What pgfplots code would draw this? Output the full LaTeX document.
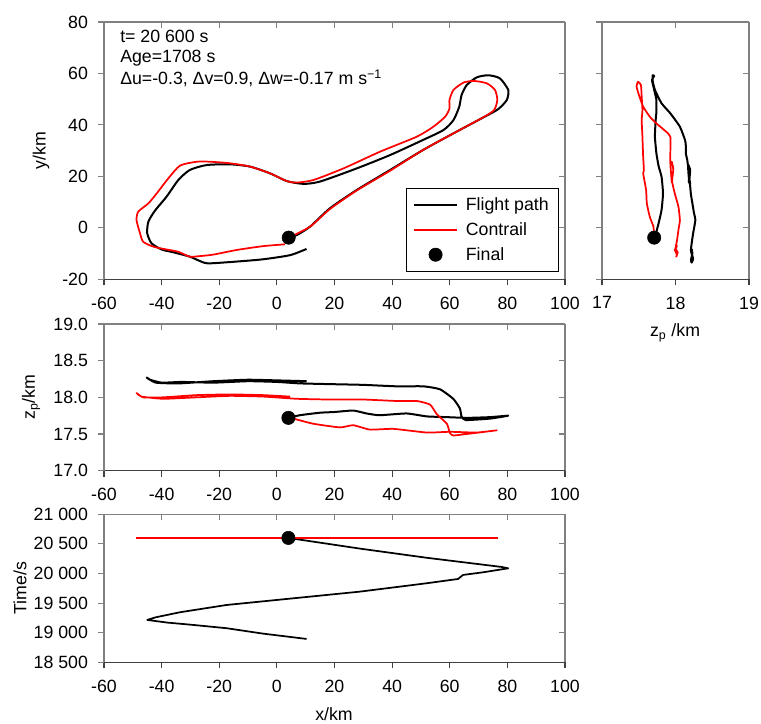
\documentclass[border=0pt]{standalone}
\usepackage{fontspec}
\setmainfont{Liberation Sans}
\usepackage{pgfplots}
\pgfplotsset{compat=1.18}
\definecolor{axgray}{gray}{0.5}
\definecolor{axdark}{gray}{0.25}
\newcommand\fs{\fontsize{13.3}{16}\selectfont}
\pgfplotsset{
 base/.style={scale only axis, axis x line*=bottom, axis y line*=left, tick align=outside, major tick length=4.5pt,
   x axis line style={axdark,line width=0.8pt}, y axis line style={axgray,line width=0.8pt},
   xtick style={axdark,line width=0.8pt}, ytick style={axgray,line width=0.8pt},
   /pgf/number format/assume math mode=true, tick label style={font=\fs, black}, label style={font=\fs},
   xticklabel style={yshift=-5pt}, yticklabel style={xshift=-4pt}, minor tick num=0},
 over/.style={scale only axis, axis x line*=top, axis y line*=right, tick align=inside, major tick length=4.5pt,
   axis line style={axgray,line width=0.8pt}, tick style={axgray,line width=0.8pt}, xticklabels={}, yticklabels={},
   scaled ticks=false},
 lineleg/.style={legend image code/.code={\draw[##1] (0pt,0pt) -- (32pt,0pt);}},
 markleg/.style={legend image code/.code={\path[draw=none] (0pt,0pt) -- (32pt,0pt); \draw[##1] plot coordinates {(16pt,0pt)};}},
}
\begin{document}
\begin{tikzpicture}[font=\fs]
\useasboundingbox (0,0) rectangle (570.75pt,543pt);
% ---------------- Panel A: x vs y
\begin{axis}[over, at={(78pt,333.5pt)}, anchor=south west, width=345.75pt, height=193pt,
 xmin=-60, xmax=100, ymin=-20, ymax=80, xtick={-60,-40,...,100}, ytick={-20,0,...,80}]
\end{axis}
\begin{axis}[base, at={(78pt,333.5pt)}, anchor=south west, width=345.75pt, height=193pt,
 xmin=-60, xmax=100, ymin=-20, ymax=80, xtick={-60,-40,...,100}, ytick={-20,0,...,80},
 every axis y label/.style={at={(axis description cs:-0.1367,0.5)}, rotate=90, anchor=center},
 ylabel={y/km},
 legend style={at={(0.9855,0.0295)}, anchor=south east, font=\fs, row sep=3.5pt, inner xsep=5pt, inner ysep=5pt,
   /tikz/every odd column/.append style={column sep=4pt}},
 legend cell align=left,
]
\addplot[black, line width=1.5pt, line join=round, smooth, tension=0.4, lineleg] coordinates {
(10.3,-8.2) (4.6,-10.6) (-4.7,-12.2) (-14,-13.1) (-23.8,-13.8) (-26.7,-12.9) (-30.2,-11.2) (-35.9,-9.5)
(-40,-8.4) (-43.5,-6.0) (-45,-2.1) (-44.6,2.4) (-42.3,6.7) (-38.3,12.1) (-34.2,18.6) (-30.2,22.5)
(-24.4,24.4) (-16.3,24.7) (-9.3,23.8) (-2.4,21.2) (3.4,18.2) (9.2,17.1) (15,18) (27.7,23.1)
(39.3,28.3) (50.8,34.2) (57.8,38) (61.3,41.9) (63.3,47.1) (64.1,51.6) (65.9,55.5) (69.4,58.5)
(73.4,59.3) (77.4,58.1) (80.3,53.6) (79.8,49.7) (76.9,46.2) (72.8,43.6) (62.4,37.4) (50.8,30.3)
(39.3,22.5) (27.7,14.7) (18.4,7.6) (11.5,0.45) (6.9,-2.8) (4.1,-3.8)};
\addlegendentry{Flight path}
\addplot[red, line width=1.3pt, line join=round, smooth, tension=0.4, lineleg] coordinates {
(2.8,-6.4) (-4.7,-7.1) (-14,-8.6) (-22.1,-10.4) (-27,-11) (-30.2,-11.2) (-34.2,-9.3) (-38.3,-8.4)
(-42.9,-7.3) (-46.4,-5.4) (-47.5,-2.1) (-48.7,3) (-48.1,6.3) (-44.6,9.5) (-41.7,13.4) (-37.7,19.2)
(-33.6,24.2) (-27.8,25.7) (-23.2,25.7) (-16.3,25.1) (-9.3,23.8) (-2.4,21.2) (3.4,18.2) (6.9,17.6)
(12.7,18.6) (23.1,23.1) (35.8,29.6) (48.5,35.4) (54.3,39.3) (58.4,43.2) (59.9,46.4) (59.9,49.7)
(61.3,53.6) (64.7,56.4) (68.2,57.1) (72.8,56.2) (75.7,53.6) (76.5,49.7) (75.4,45.8) (71.7,43)
(62.4,37.4) (50.8,30.3) (39.3,22.2) (27.7,14.5) (18.4,7.3) (11.5,0.45) (4.1,-3.8)};
\addlegendentry{Contrail}
\addplot[only marks, mark=*, mark size=5pt, black, markleg] coordinates {(4.1,-3.8)};
\addlegendentry{Final}
\node[anchor=base west, inner sep=0pt] at (rel axis cs:0.0347,0.9195) {t= 20 600 s};
\node[anchor=base west, inner sep=0pt] at (rel axis cs:0.0347,0.8418) {Age=1708 s};
\node[anchor=base west, inner sep=0pt] at (rel axis cs:0.0347,0.7552) {Δu=-0.3, Δv=0.9, Δw=-0.17 m s\textsuperscript{−1}};
\end{axis}
% ---------------- Panel B: zp vs y
\begin{axis}[over, at={(451.5pt,333.5pt)}, anchor=south west, width=110.25pt, height=193pt,
 xmin=17, xmax=19, ymin=-20, ymax=80, xtick={17,18,19}, ytick={-20,0,...,80}]
\end{axis}
\begin{axis}[base, at={(451.5pt,333.5pt)}, anchor=south west, width=110.25pt, height=193pt,
 xmin=17, xmax=19, ymin=-20, ymax=80, xtick={17,18,19}, ytick={-20,0,...,80}, yticklabels={},
 every axis x label/.style={at={(axis description cs:0.497,-0.209)}, anchor=center},
 xlabel={z\textsubscript{p} /km}]
\addplot[black, line width=1.5pt, line join=round, smooth, tension=0.3] coordinates {
(18.22,-8.2) (18.23,-9.9) (18.21,-12.5) (18.22,-13.5) (18.24,-12) (18.21,-9) (18.22,-6) (18.24,-2.1)
(18.27,3.0) (18.25,6) (18.23,9.5) (18.21,13) (18.2,16) (18.19,19) (18.2,22.5) (18.17,24.7)
(18.19,21.5) (18.18,18) (18.2,17.2) (18.18,20) (18.17,24) (18.16,26.4) (18.14,29) (18.14,32)
(18.13,34.1) (18.06,39.3) (17.93,44.5) (17.81,48.4) (17.72,53.6) (17.69,57) (17.69,59.3) (17.71,59)
(17.68,57.5) (17.71,53.6) (17.74,49.7) (17.74,45) (17.73,41.9) (17.72,35.4) (17.74,29) (17.77,24)
(17.81,19.9) (17.83,13.4) (17.81,6.9) (17.77,1.8) (17.72,-3.8)};
\addplot[red, line width=1.3pt, line join=round, smooth, tension=0.3] coordinates {
(18.0,-6.4) (18.02,-7.1) (17.99,-8.6) (18.02,-10.4) (18.01,-11.2) (18.03,-9.5) (18.0,-8) (18.02,-5)
(18.04,-0.8) (18.06,3.0) (18.04,8.2) (17.99,13.4) (17.95,18.6) (17.97,22.5) (17.95,25.7) (17.97,23)
(17.96,20) (17.95,17.6) (17.94,21) (17.93,25) (17.93,29) (17.93,35.4) (17.9,36.7) (17.74,40.6)
(17.65,43.2) (17.56,47.1) (17.51,51) (17.47,54.9) (17.49,56.8) (17.53,55.5) (17.54,51) (17.55,45.8)
(17.54,41.9) (17.55,35.4) (17.56,27.6) (17.57,22.5) (17.56,21.2) (17.6,14.7) (17.61,9.5) (17.65,4.3)
(17.70,0.4) (17.71,-3.8)};
\addplot[only marks, mark=*, mark size=5pt, black] coordinates {(17.71,-3.8)};
\end{axis}
% ---------------- Panel C: x vs zp
\begin{axis}[over, at={(78pt,190pt)}, anchor=south west, width=345.75pt, height=110pt,
 xmin=-60, xmax=100, ymin=17, ymax=19, xtick={-60,-40,...,100}, ytick={17,17.5,...,19}]
\end{axis}
\begin{axis}[base, at={(78pt,190pt)}, anchor=south west, width=345.75pt, height=110pt,
 xmin=-60, xmax=100, ymin=17, ymax=19, xtick={-60,-40,...,100}, ytick={17,17.5,...,19},
 yticklabel style={/pgf/number format/.cd, fixed, fixed zerofill, precision=1},
 every axis y label/.style={at={(axis description cs:-0.158,0.5)}, rotate=90, anchor=center},
 ylabel={z\textsubscript{p}/km}]
\addplot[black, line width=1.5pt, line join=round, smooth, tension=0.3] coordinates {
(10.3,18.22) (1,18.23) (-10,18.24) (-22,18.22) (-34,18.19) (-42,18.2) (-45.2,18.27) (-44,18.24)
(-40,18.2) (-33,18.21) (-22,18.2) (-10,18.22) (0,18.21) (8,18.19) (18.4,18.18) (30,18.17)
(41.6,18.15) (50.8,18.15) (56.6,18.11) (61.2,17.98) (63.5,17.85) (64.1,17.74) (65.5,17.69) (74,17.71)
(80.3,17.75) (74,17.73) (66,17.72) (58.9,17.73) (52,17.74) (45,17.78) (35.7,17.756) (31.1,17.78)
(26.5,17.82) (20,17.8) (14.9,17.79) (8,17.756) (4.0,17.72)};
\addplot[red, line width=1.3pt, line join=round, smooth, tension=0.3] coordinates {
(4.6,18.01) (-4.7,18.03) (-16.3,18.04) (-27.9,18.03) (-39.4,18.0) (-46.4,18.0) (-48.7,18.06) (-47,18.01)
(-39.4,17.98) (-27.9,18.0) (-16.3,18.02) (-4.7,18.01) (6.9,17.98) (18.4,17.97) (30,17.97) (41.6,17.95)
(48.6,17.95) (53.2,17.9) (55.5,17.77) (59,17.64) (60.1,17.51) (61.3,17.48) (65.9,17.5) (76.3,17.55)
(69.3,17.52) (60.1,17.53) (52,17.52) (40.4,17.57) (32.3,17.56) (26.5,17.62) (21.9,17.59) (12.6,17.64)
(5.7,17.71) (4,17.72)};
\addplot[only marks, mark=*, mark size=5pt, black] coordinates {(4.0,17.72)};
\end{axis}
% ---------------- Panel D: x vs time
\begin{axis}[over, at={(78pt,46.3pt)}, anchor=south west, width=345.75pt, height=111pt,
 xmin=-60, xmax=100, ymin=18500, ymax=21000, xtick={-60,-40,...,100}, ytick={18500,19000,...,21000}]
\end{axis}
\begin{axis}[base, at={(78pt,46.3pt)}, anchor=south west, width=345.75pt, height=111pt,
 xmin=-60, xmax=100, ymin=18500, ymax=21000, xtick={-60,-40,...,100}, ytick={18500,19000,...,21000},
 scaled y ticks=false,
 yticklabel style={/pgf/number format/.cd, fixed, 1000 sep={\ }},
 every axis y label/.style={at={(axis description cs:-0.182,0.5)}, rotate=90, anchor=center},
 ylabel={Time/s},
 every axis x label/.style={at={(axis description cs:0.499,-0.351)}, anchor=center},
 xlabel={x/km}]
\addplot[black, line width=1.3pt, line join=round] coordinates {
(10.3,18894) (-5,18985) (-17.4,19075) (-30,19135) (-38,19170) (-45,19215) (-42,19260) (-33.6,19345)
(-17.4,19468) (-0.1,19552) (28.8,19693) (51.9,19834) (62.9,19907) (64.6,19975) (71.6,20020) (80.3,20087)
(78,20110) (52,20265) (28.8,20420) (4,20600)};
\addplot[red, line width=1.3pt] coordinates {(-48.9,20600) (76.9,20600)};
\addplot[only marks, mark=*, mark size=5pt, black] coordinates {(4.0,20600)};
\end{axis}
\end{tikzpicture}
\end{document}
